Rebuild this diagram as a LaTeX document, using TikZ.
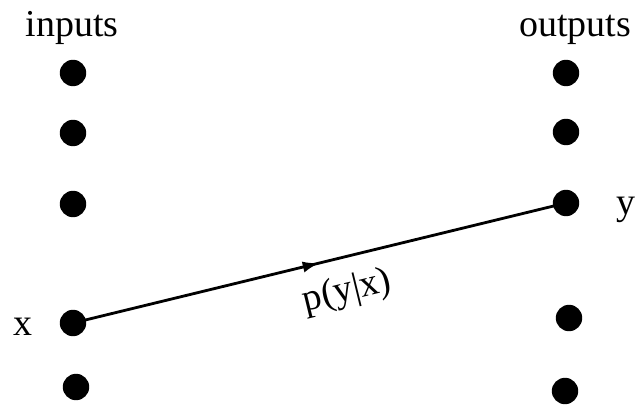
\documentclass[tikz,border=0pt]{standalone}
\usepackage{fontspec}
\setmainfont{Liberation Serif}
\usetikzlibrary{arrows.meta,positioning,calc,decorations.markings}

\begin{document}
\begin{tikzpicture}[>=Latex,x=0.025cm,y=-0.025cm,
  dot/.style={circle,fill,minimum size=0.66cm,inner sep=0pt},
  lbl/.style={font=\fontsize{27}{32}\selectfont,inner sep=0pt},
  midarrow/.style={postaction={decorate},decoration={markings,
    mark=at position 0.5 with {\arrow{Latex[length=0.42cm,width=0.28cm]}}}}]
  \useasboundingbox (0,0) rectangle (635,405);
  % headings
  \node[lbl,anchor=base] (inlbl) at (72,37) {inputs};
  \node[lbl,anchor=base] (outlbl) at (575,37) {outputs};
  % the two columns of symbols
  \foreach \n/\px/\py in {1/73/73, 2/73/133, 3/73/204, 4/73/323, 5/76/387}
    \node[dot] (in\n) at (\px,\py) {};
  \foreach \n/\px/\py in {1/566/73, 2/566/132, 3/566/203, 4/569/318, 5/565/391}
    \node[dot] (out\n) at (\px,\py) {};
  \node[lbl,anchor=base] (xlbl) at (23,335) {x};
  \node[lbl,anchor=base] (ylbl) at (626,215) {y};
  % transition
  \draw[line width=2pt,midarrow] (in4.center) -- node[lbl,sloped,below=0.4cm,pos=0.54] (plbl) {p(y|x)} (out3.center);
\end{tikzpicture}
\end{document}
